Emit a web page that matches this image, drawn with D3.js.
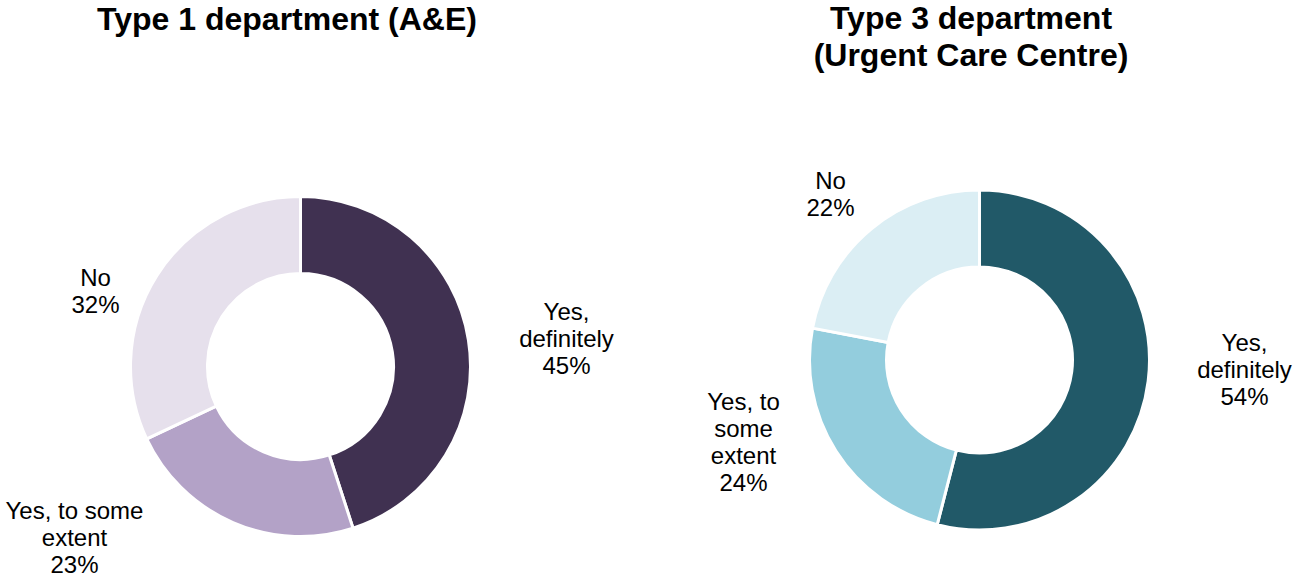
<!DOCTYPE html>
<html>
<head>
<meta charset="utf-8">
<script src="https://cdn.jsdelivr.net/npm/d3@7"></script>
<style>
  html, body { margin: 0; padding: 0; background: #fff; }
  svg { display: block; font-family: "Liberation Sans", Arial, Helvetica, sans-serif; }
</style>
</head>
<body>
<svg id="chart" width="1295" height="578"></svg>
<script>
// Survey answers, in drawing order (clockwise from 12 o'clock)
const categories = ["Yes, definitely", "Yes, to some extent", "No"];
const type1Values = [45, 23, 32];
const type3Values = [54, 24, 22];
const type1Title = ["Type 1 department (A&E)"];
const type3Title = ["Type 3 department", "(Urgent Care Centre)"];
const type1Colors = ["#403151", "#B3A2C7", "#E6E0EC"];
const type3Colors = ["#215968", "#93CDDD", "#DBEEF4"];

// Layout of each donut panel and where its category labels sit
const panels = [
  {
    values: type1Values, colors: type1Colors, title: type1Title,
    cx: 300.5, cy: 366.5, titleX: 287, titleY: 30,
    labels: [
      { lines: ["Yes,", "definitely"], x: 566.5, y: 320 },
      { lines: ["Yes, to some", "extent"], x: 74.5, y: 519 },
      { lines: ["No"], x: 95.5, y: 286 }
    ]
  },
  {
    values: type3Values, colors: type3Colors, title: type3Title,
    cx: 979.5, cy: 360, titleX: 971, titleY: 29,
    labels: [
      { lines: ["Yes,", "definitely"], x: 1244.5, y: 351 },
      { lines: ["Yes, to", "some", "extent"], x: 743.5, y: 410 },
      { lines: ["No"], x: 830.5, y: 189 }
    ]
  }
];

const outerR = 170, innerR = 93;
const labelSize = 24, lineStep = 27;
const titleSize = 32, titleStep = 37;

const svg = d3.select("#chart");

const pie = d3.pie().sort(null).value(d => d);
const arc = d3.arc().outerRadius(outerR).innerRadius(innerR);

panels.forEach(p => {
  const color = d3.scaleOrdinal().domain(categories).range(p.colors);

  // Title
  const title = svg.append("text")
    .attr("x", p.titleX).attr("y", p.titleY)
    .attr("text-anchor", "middle")
    .attr("font-size", titleSize)
    .attr("font-weight", "bold")
    .attr("fill", "#000");
  p.title.forEach((t, i) => {
    title.append("tspan").attr("x", p.titleX).attr("dy", i === 0 ? 0 : titleStep).text(t);
  });

  // Donut slices
  const g = svg.append("g").attr("transform", `translate(${p.cx},${p.cy})`);
  g.selectAll("path")
    .data(pie(p.values))
    .join("path")
    .attr("d", arc)
    .attr("fill", (d, i) => color(categories[i]))
    .attr("stroke", "#fff")
    .attr("stroke-width", 3)
    .attr("stroke-linejoin", "miter");

  // Category labels with percentage
  p.labels.forEach((lab, i) => {
    const lines = lab.lines.concat([p.values[i] + "%"]);
    const t = svg.append("text")
      .attr("x", lab.x).attr("y", lab.y)
      .attr("text-anchor", "middle")
      .attr("font-size", labelSize)
      .attr("fill", "#000");
    lines.forEach((line, k) => {
      t.append("tspan").attr("x", lab.x).attr("dy", k === 0 ? 0 : lineStep).text(line);
    });
  });
});
</script>
</body>
</html>
